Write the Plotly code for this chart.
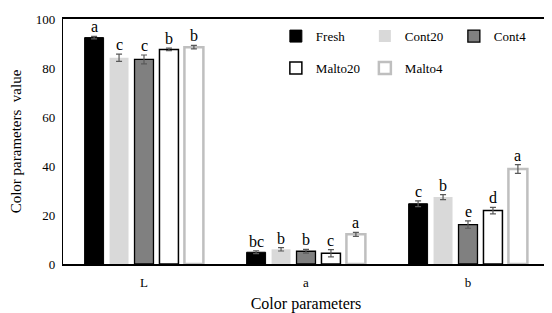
import plotly.graph_objects as go

categories = ["L", "a", "b"]
series = ["Fresh", "Cont20", "Cont4", "Malto20", "Malto4"]
values = {
    "Fresh":   [92.4, 4.8, 24.6],
    "Cont20":  [84.2, 6.0, 27.3],
    "Cont4":   [83.5, 5.2, 16.1],
    "Malto20": [87.6, 4.4, 21.8],
    "Malto4":  [88.5, 12.1, 38.8],
}
errors = {
    "Fresh":   [0.5, 0.6, 1.2],
    "Cont20":  [1.5, 0.7, 1.0],
    "Cont4":   [1.8, 0.8, 1.5],
    "Malto20": [0.5, 1.5, 1.3],
    "Malto4":  [0.7, 0.8, 1.8],
}
letters = {
    "Fresh":   ["a", "bc", "c"],
    "Cont20":  ["c", "b", "b"],
    "Cont4":   ["c", "b", "e"],
    "Malto20": ["b", "c", "d"],
    "Malto4":  ["b", "a", "a"],
}
y_ticks = [0, 20, 40, 60, 80, 100]

fills = {"Fresh": "#000000", "Cont20": "#d9d9d9", "Cont4": "#808080",
         "Malto20": "#ffffff", "Malto4": "#ffffff"}
lines = {"Fresh": ("#000000", 1), "Cont20": ("#d9d9d9", 0), "Cont4": ("#000000", 1.3),
         "Malto20": ("#000000", 1.5), "Malto4": ("#bfbfbf", 2.5)}
legend_of = {"Fresh": "legend", "Cont20": "legend", "Cont4": "legend",
             "Malto20": "legend2", "Malto4": "legend2"}

FONT = "Liberation Serif, Times New Roman, serif"
bargap = 0.23
xpos = list(range(len(categories)))

fig = go.Figure()
for s in series:
    fig.add_trace(go.Bar(
        name=s, x=xpos, y=values[s], legend=legend_of[s],
        marker=dict(color=fills[s], line=dict(color=lines[s][0], width=lines[s][1])),
        error_y=dict(type="data", array=errors[s], color="#595959", thickness=1.2, width=3),
    ))

slot = (1 - bargap) / len(series)
annotations = []
for j, s in enumerate(series):
    for i in xpos:
        annotations.append(dict(
            x=i + (j - (len(series) - 1) / 2) * slot, y=values[s][i] + errors[s][i],
            xref="x", yref="y", text=letters[s][i], showarrow=False,
            yanchor="bottom", yshift=-1, font=dict(family=FONT, size=16, color="#000")))

leg_common = dict(orientation="h", xanchor="left", yanchor="middle",
                  entrywidth=44, font=dict(family=FONT, size=13),
                  bgcolor="rgba(0,0,0,0)", itemwidth=30)
fig.update_layout(
    width=544, height=305,
    margin=dict(l=55, r=3, t=11, b=49, autoexpand=False),
    barmode="group", bargap=bargap, bargroupgap=0.24,
    plot_bgcolor="white", paper_bgcolor="white",
    font=dict(family=FONT, size=13, color="#000"),
    annotations=annotations,
    legend=dict(x=0.438, y=0.93, **leg_common),
    legend2=dict(x=0.438, y=0.80, **leg_common),
    xaxis=dict(tickvals=xpos, ticktext=categories, range=[-0.5, 2.5], automargin=False,
               showline=True, linecolor="#000", linewidth=1.5, mirror=True,
               ticks="", showgrid=False, zeroline=False, ticklabelstandoff=6,
               title=dict(text="Color parameters", font=dict(family=FONT, size=16), standoff=9),
               tickfont=dict(family=FONT, size=13)),
    yaxis=dict(range=[0, 100], tickvals=y_ticks, showline=True, linecolor="#000", automargin=False,
               linewidth=1.2, mirror=True, ticks="", showgrid=False, zeroline=False,
               ticklabelstandoff=4,
               title=dict(text="Color parameters  value", font=dict(family=FONT, size=15), standoff=14),
               tickfont=dict(family=FONT, size=13)),
)
fig.write_html("out.html")
